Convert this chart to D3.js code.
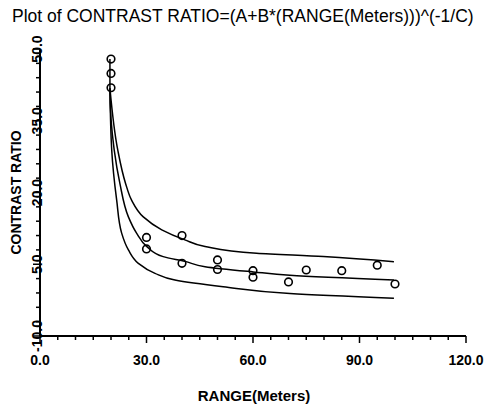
<!DOCTYPE html>
<html>
<head>
<meta charset="utf-8">
<script src="https://cdn.jsdelivr.net/npm/d3@7"></script>
<style>
  body { margin: 0; background: #fff; }
  text { font-family: "Liberation Sans", Arial, sans-serif; fill: #000; }
</style>
</head>
<body>
<div id="chart"></div>
<script>
const width = 497;
const height = 408;

// observed points
const rangeObs = [20, 20, 20, 30, 30, 40, 40, 50, 50, 60, 60, 70, 75, 85, 95, 100];
const ratioObs = [47.9, 44.9, 41.9, 10.6, 8.2, 11.0, 5.2, 5.9, 3.9, 3.65, 2.3, 1.3, 3.8, 3.65, 4.8, 0.87];

// fitted curve and bands
const fitX = [19.7, 19.7, 20.9, 22.5, 24.9, 27.2, 30.1, 34.7, 40.8, 46.5, 60.1, 70.4, 99.7];
const fitY = [47.9, 41.8, 28.9, 21.9, 14.9, 11.5, 8.7, 6.6, 5.6, 4.5, 3.4, 2.7, 1.7];
const upperX = [19.7, 21.9, 24.1, 25.8, 29.1, 34.3, 40.8, 46.5, 61.0, 79.8, 99.7];
const upperY = [41.8, 28.9, 21.9, 18.4, 14.9, 12.2, 10.1, 8.7, 7.3, 6.6, 5.5];
const lowerX = [19.7, 20.2, 21.6, 23.0, 24.9, 27.7, 32.4, 38.0, 51.6, 70.4, 99.7];
const lowerY = [41.8, 28.9, 18.4, 11.5, 8.0, 5.2, 3.1, 1.7, 0.3, -1.1, -2.1];

const xTicks = [0, 30, 60, 90, 120];
const yTicks = [-10, 5, 20, 35, 50];

const svg = d3.select("#chart")
    .append("svg")
    .attr("width", width)
    .attr("height", height);

const x = d3.scaleLinear().domain([0, 120]).range([40, 466]);
const y = d3.scaleLinear().domain([-10, 50]).range([336, 49]);

// title
svg.append("text")
    .attr("x", 12)
    .attr("y", 22)
    .attr("font-size", 17.5)
    .text("Plot of CONTRAST RATIO=(A+B*(RANGE(Meters)))^(-1/C)");

// x axis
const xAxis = svg.append("g").attr("transform", `translate(0,${y(-10)})`);
xAxis.append("line")
    .attr("x1", x(0)).attr("x2", x(120))
    .attr("stroke", "#000").attr("stroke-width", 2);
xAxis.selectAll(".minor")
    .data(d3.range(0, 121, 5))
    .enter().append("line")
    .attr("x1", d => x(d)).attr("x2", d => x(d))
    .attr("y1", 0)
    .attr("y2", d => d % 30 === 0 ? 7 : 4)
    .attr("stroke", "#000").attr("stroke-width", 1.5);
xAxis.selectAll(".lab")
    .data(xTicks)
    .enter().append("text")
    .attr("x", d => x(d))
    .attr("y", 29)
    .attr("text-anchor", "middle")
    .attr("font-size", 14)
    .attr("font-weight", "bold")
    .text(d => d.toFixed(1));

// y axis
const yAxis = svg.append("g").attr("transform", `translate(${x(0)},0)`);
yAxis.append("line")
    .attr("y1", y(-10)).attr("y2", y(50))
    .attr("stroke", "#000").attr("stroke-width", 2);
yAxis.selectAll(".minor")
    .data(d3.range(-10, 51, 3))
    .enter().append("line")
    .attr("y1", d => y(d)).attr("y2", d => y(d))
    .attr("x1", 0)
    .attr("x2", d => (d + 10) % 15 === 0 ? -7 : -4)
    .attr("stroke", "#000").attr("stroke-width", 1.5);
yAxis.selectAll(".lab")
    .data(yTicks)
    .enter().append("text")
    .attr("transform", d => `translate(2,${y(d)}) rotate(-90)`)
    .attr("text-anchor", "middle")
    .attr("font-size", 14)
    .attr("font-weight", "bold")
    .text(d => d.toFixed(1));

// axis titles
svg.append("text")
    .attr("transform", `translate(21,${(y(-10) + y(50)) / 2}) rotate(-90)`)
    .attr("text-anchor", "middle")
    .attr("font-size", 14)
    .attr("font-weight", "bold")
    .text("CONTRAST RATIO");

svg.append("text")
    .attr("x", 254)
    .attr("y", 401)
    .attr("text-anchor", "middle")
    .attr("font-size", 15)
    .attr("font-weight", "bold")
    .text("RANGE(Meters)");

// curves
const line = d3.line()
    .x(d => x(d[0]))
    .y(d => y(d[1]))
    .curve(d3.curveMonotoneY);

[[upperX, upperY], [fitX, fitY], [lowerX, lowerY]].forEach(([xs, ys]) => {
    svg.append("path")
        .datum(d3.zip(xs, ys))
        .attr("d", line)
        .attr("fill", "none")
        .attr("stroke", "#000")
        .attr("stroke-width", 1.5);
});

// points
svg.selectAll("circle")
    .data(d3.zip(rangeObs, ratioObs))
    .enter().append("circle")
    .attr("cx", d => x(d[0]))
    .attr("cy", d => y(d[1]))
    .attr("r", 3.8)
    .attr("fill", "none")
    .attr("stroke", "#000")
    .attr("stroke-width", 1.6);
</script>
</body>
</html>
